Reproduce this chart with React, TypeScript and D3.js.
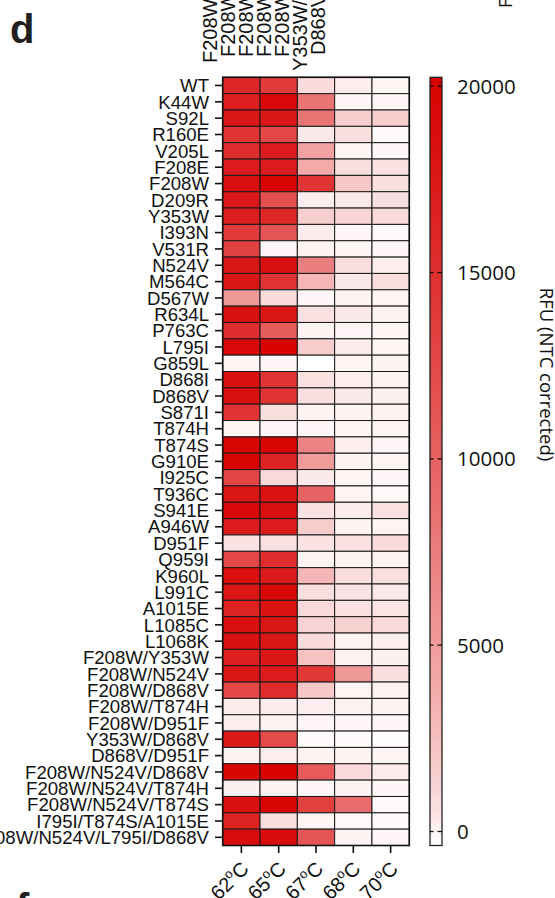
import { useEffect, useRef } from 'react'
import * as d3 from 'd3'

const rowLabels = ['WT','K44W','S92L','R160E','V205L','F208E','F208W','D209R','Y353W','I393N','V531R','N524V','M564C','D567W','R634L','P763C','L795I','G859L','D868I','D868V','S871I','T874H','T874S','G910E','I925C','T936C','S941E','A946W','D951F','Q959I','K960L','L991C','A1015E','L1085C','L1068K','F208W/Y353W','F208W/N524V','F208W/D868V','F208W/T874H','F208W/D951F','Y353W/D868V','D868V/D951F','F208W/N524V/D868V','F208W/N524V/T874H','F208W/N524V/T874S','I795I/T874S/A1015E','F208W/N524V/L795I/D868V']
const temps = ['62', '65', '67', '68', '70']

// RFU (NTC corrected), one array per temperature, rows in rowLabels order
const rfu62 = [15800,16800,17800,14500,15100,17100,18500,17400,16800,13800,13200,17800,17800,5300,18500,15100,19200,-150,18500,18500,14500,-150,19900,19900,12900,17800,19200,17100,500,12600,18500,17800,16400,18500,18500,16800,17800,12600,150,50,17400,-50,19600,0,18500,16400,18800]
const rfu65 = [13800,19200,17800,12600,17100,17100,19900,11700,15800,11300,-200,18500,14500,900,17800,10500,20200,-200,14500,14500,700,-200,19900,16400,1000,18200,18500,17100,600,15100,17100,19200,18200,17800,17800,17800,17100,15500,150,-100,12200,50,20200,-100,19600,700,18900]
const rfu67 = [900,8400,8400,300,4600,3900,14500,50,1500,150,-100,7400,3100,-200,600,-100,1700,-376,600,700,-100,-200,7100,5100,200,9800,600,1700,500,-100,3100,700,1000,1300,900,2300,14200,1900,50,-200,-300,-100,10700,-200,13400,-150,11300]
const rfu68 = [50,-200,1500,700,-150,700,2000,300,1200,-200,-150,700,300,-100,200,-200,150,-150,50,300,-100,-150,50,-100,-150,-150,150,-100,600,-100,800,500,600,1400,-50,-50,5300,-150,-50,-200,-300,-100,1000,-100,9000,-250,-100]
const rfu70 = [-150,-200,1500,-300,-200,500,700,600,900,-250,-200,50,800,-150,-100,-150,-150,-100,-100,0,-100,-150,-200,-150,-200,-250,600,-150,900,-100,700,300,400,1000,50,0,700,-50,-100,-200,-350,-150,150,-200,-300,-300,-200]
const columns = [rfu62, rfu65, rfu67, rfu68, rfu70]

const barTicks = [0, 5000, 10000, 15000, 20000]
const valueRange = [-376, 20240]

// cropped labels from the panel above
const topLabels = ['F208W/T874H', 'F208W/D951F', 'F208W/N524V/D868V', 'F208W/N524V/T874H', 'F208W/N524V/T874S', 'Y353W/D868V', 'D868V/D951F']
const topLabelBottoms = [63, 57, 57, 57, 57, 71, 55]

const W = 555, H = 898
const ARIAL = 'Liberation Sans, Arial, Helvetica, sans-serif'
const OPEN = '"Open Sans", "Noto Sans", sans-serif'

export default function App() {
  const svgRef = useRef<SVGSVGElement>(null)

  useEffect(() => {
    const svg = d3.select(svgRef.current)
    svg.selectAll('*').remove()

    const left = 222.7, right = 409.3, top = 77.3, bottom = 845.5

    const x = d3.scaleBand<string>().domain(temps).range([left, right])
    const y = d3.scaleBand<string>().domain(rowLabels).range([top, bottom])
    // colour ramp rises quickly off white, saturates toward the top
    const tScale = d3.scaleLinear().domain(valueRange).range([0, 1]).clamp(true)
    const ramp = d3.interpolateRgb('#ffffff', '#d80000')
    const color = (v: number) => ramp(Math.pow(tScale(v), 0.7))

    // panel letters + cropped neighbours
    svg.append('text').attr('x', 10).attr('y', 43).attr('font-family', ARIAL)
      .attr('font-weight', 'bold').attr('font-size', 40).attr('fill', '#231f20').text('d')
    svg.append('text').attr('x', 16).attr('y', 922).attr('font-family', ARIAL)
      .attr('font-weight', 'bold').attr('font-size', 40).attr('fill', '#231f20').text('f')
    svg.append('text').attr('transform', 'translate(512,8) rotate(-90)').attr('font-family', OPEN)
      .attr('font-size', 18).attr('fill', '#111').text('F')

    topLabels.forEach((t, i) => {
      svg.append('text').attr('transform', `translate(${217 + i * 18},${topLabelBottoms[i]}) rotate(-90)`)
        .attr('font-family', ARIAL).attr('font-size', 20).attr('fill', '#111').text(t)
    })

    // cells
    const cells = svg.append('g')
    columns.forEach((col, j) => {
      cells.selectAll(null).data(col).join('rect')
        .attr('x', x(temps[j])!).attr('y', (_, i) => y(rowLabels[i])!)
        .attr('width', x.bandwidth()).attr('height', y.bandwidth())
        .attr('fill', d => color(d))
        .attr('stroke', '#1a1a1a').attr('stroke-width', 1)
    })
    svg.append('rect').attr('x', left).attr('y', top).attr('width', right - left).attr('height', bottom - top)
      .attr('fill', 'none').attr('stroke', '#111').attr('stroke-width', 1.6)

    // row axis
    const rows = svg.append('g')
    rows.selectAll('line').data(rowLabels).join('line')
      .attr('x1', 215).attr('x2', left).attr('y1', d => y(d)! + y.bandwidth() / 2).attr('y2', d => y(d)! + y.bandwidth() / 2)
      .attr('stroke', '#111').attr('stroke-width', 1.6)
    rows.selectAll('text').data(rowLabels).join('text')
      .attr('x', 209).attr('y', d => y(d)! + y.bandwidth() / 2).attr('dy', '0.36em')
      .attr('text-anchor', 'end').attr('font-family', ARIAL).attr('font-size', 18.6).attr('fill', '#111')
      .text(d => d)

    // temperature axis
    const cols = svg.append('g')
    cols.selectAll('line').data(temps).join('line')
      .attr('x1', d => x(d)! + x.bandwidth() / 2).attr('x2', d => x(d)! + x.bandwidth() / 2)
      .attr('y1', bottom).attr('y2', bottom + 7.5).attr('stroke', '#111').attr('stroke-width', 1.6)
    const tl = cols.selectAll('text').data(temps).join('text')
      .attr('transform', d => `translate(${x(d)! + x.bandwidth() / 2 + 8.5},${870}) rotate(-45)`)
      .attr('text-anchor', 'end').attr('font-family', ARIAL).attr('font-size', 20).attr('fill', '#111')
    tl.append('tspan').text(d => d)
    tl.append('tspan').attr('font-size', 13).attr('dy', -8).text('o')
    tl.append('tspan').attr('dy', 8).text('C')

    // colour bar
    const cbX = 430, cbW = 12
    const cy = d3.scaleLinear().domain(valueRange).range([bottom, top])
    const grad = svg.append('defs').append('linearGradient').attr('id', 'rfu-grad')
      .attr('x1', 0).attr('x2', 0).attr('y1', 1).attr('y2', 0)
    grad.selectAll('stop').data(d3.range(0, 1.0001, 0.04)).join('stop')
      .attr('offset', d => d)
      .attr('stop-color', d => color(valueRange[0] + d * (valueRange[1] - valueRange[0])))
    svg.append('rect').attr('x', cbX).attr('y', top).attr('width', cbW).attr('height', bottom - top)
      .attr('fill', 'url(#rfu-grad)').attr('stroke', '#222').attr('stroke-width', 1.3)
    const bt = svg.append('g')
    bt.selectAll('line.l').data(barTicks).join('line').attr('class', 'l')
      .attr('x1', cbX).attr('x2', cbX + 3.5).attr('y1', d => cy(d)).attr('y2', d => cy(d))
      .attr('stroke', '#111').attr('stroke-width', 1.3)
    bt.selectAll('line.r').data(barTicks).join('line').attr('class', 'r')
      .attr('x1', cbX + cbW - 4.5).attr('x2', cbX + cbW).attr('y1', d => cy(d)).attr('y2', d => cy(d))
      .attr('stroke', '#111').attr('stroke-width', 1.3)
    bt.selectAll('text').data(barTicks).join('text')
      .attr('x', 457).attr('y', d => cy(d)).attr('dy', '0.36em')
      .attr('font-family', OPEN).attr('font-size', 20.5).attr('fill', '#111')
      .text(d => String(d))

    svg.append('text').attr('transform', `translate(540,${(287 + 462) / 2}) rotate(90)`)
      .attr('text-anchor', 'middle').attr('font-family', OPEN).attr('font-size', 18.5).attr('fill', '#111')
      .text('RFU (NTC corrected)')
  }, [])

  return (
    <div style={{ position: 'absolute', left: 0, top: 0, width: W, height: H, overflow: 'hidden', background: '#fff' }}>
      <svg ref={svgRef} width={W} height={H} style={{ display: 'block' }} />
    </div>
  )
}
